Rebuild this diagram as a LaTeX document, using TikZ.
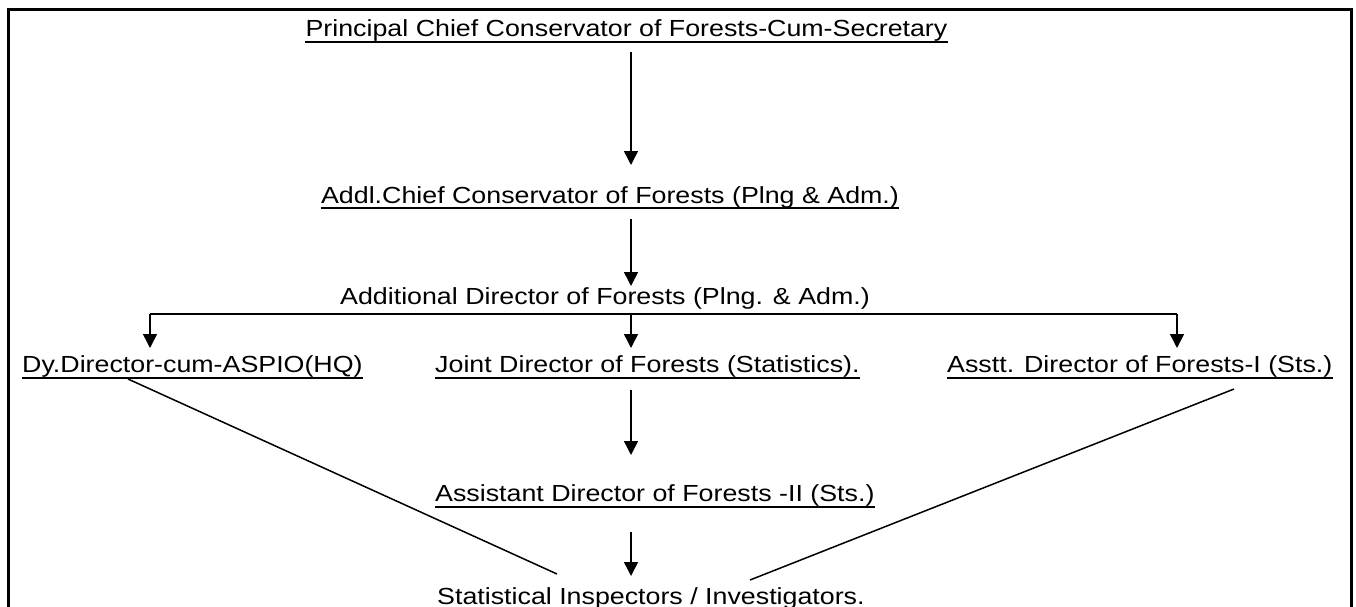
\documentclass[tikz,border=0pt]{standalone}
\usepackage{fontspec}
\setmainfont[FakeStretch=1.15]{Liberation Sans}
\usetikzlibrary{arrows.meta}
\begin{document}
\begin{tikzpicture}[x=1pt,y=-1pt,
  lbl/.style={inner sep=0pt,anchor=base west,font=\fontsize{23.3}{28}\selectfont},
  ul/.style={line width=2pt},
  conn/.style={line width=1.5pt},
  arr/.style={conn,-{Triangle[width=14pt,length=14pt]}},
  frame/.style={line width=3pt}]
\useasboundingbox (0,0) rectangle (1356,607);
\draw[frame] (8.5,9.5) rectangle (1351.7,640);
% nodes
\node[lbl,anchor=base] (pccf) at (626.5,37) {Principal Chief Conservator of Forests-Cum-Secretary};
\node[lbl,anchor=base] (accf) at (610,203) {Addl.Chief Conservator of Forests (Plng \& Adm.)};
\node[lbl,anchor=base] (adf) at (605,304) {Additional Director of Forests (Plng. \& Adm.)};
\node[lbl] (dy) at (22,372) {Dy.Director-cum-ASPIO(HQ)};
\node[lbl] (jdf) at (435,372) {Joint Director of Forests (Statistics).};
\node[lbl] (adfi) at (947,372) {Asstt. Director of Forests-I (Sts.)};
\node[lbl] (adfii) at (435,501) {Assistant Director of Forests -II (Sts.)};
\node[lbl] (si) at (437,604) {Statistical Inspectors / Investigators.};
% underlines
\foreach \n/\d in {pccf/5,accf/5,dy/6,jdf/6,adfi/6,adfii/6}
  \draw[ul] ([yshift=-\d pt]\n.base west) -- ([yshift=-\d pt]\n.base east);
% spine
\coordinate (mid) at (631,0);
\draw[arr] ([yshift=-15pt]mid |- pccf.base) -- ([yshift=38pt]mid |- accf.base);
\draw[arr] ([yshift=-16pt]mid |- accf.base) -- ([yshift=18pt]mid |- adf.base);
% bar
\coordinate (bl) at (150,314);
\coordinate (bm) at (631,314);
\coordinate (br) at (1177,314);
\draw[conn] (bl) -- (br);
\draw[arr] (bl) -- ([yshift=24pt]bl |- dy.base);
\draw[arr] (bm) -- ([yshift=24pt]bm |- jdf.base);
\draw[arr] (br) -- ([yshift=24pt]br |- adfi.base);
% lower spine
\draw[arr] ([yshift=-18pt]mid |- jdf.base) -- ([yshift=46pt]mid |- adfii.base);
\draw[arr] ([yshift=-31pt]mid |- adfii.base) -- ([yshift=28pt]mid |- si.base);
% diagonals
\coordinate (dys) at (128,379);
\coordinate (siL) at (557,574);
\coordinate (adfis) at (1234,389);
\coordinate (siR) at (750,580);
\draw[conn] (dys) -- (siL);
\draw[conn] (adfis) -- (siR);
\end{tikzpicture}
\end{document}
